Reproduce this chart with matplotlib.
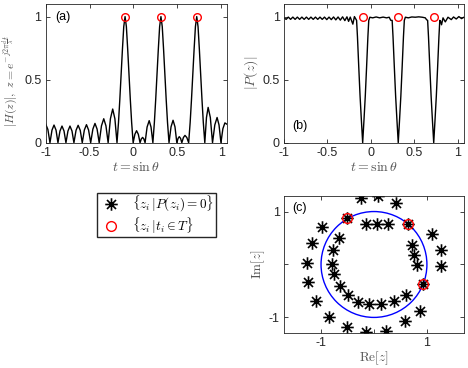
import matplotlib
matplotlib.use("Agg")
import matplotlib.pyplot as plt
from matplotlib.path import Path
from matplotlib.patches import Circle

# values
# (a) |H(z)| against t
ha_t = [-1.000, -0.975, -0.951,
        -0.928, -0.905, -0.882, -0.860,
        -0.837, -0.814, -0.791, -0.769,
        -0.746, -0.723, -0.700, -0.678,
        -0.654, -0.630, -0.606, -0.583,
        -0.559, -0.535, -0.511, -0.487,
        -0.462, -0.438, -0.414, -0.390,
        -0.364, -0.338, -0.313, -0.288,
        -0.262, -0.236, -0.211, -0.187,
        -0.170, -0.155, -0.140, -0.125, -0.110, -0.095, -0.080, -0.065, -0.050, -0.035, -0.020, -0.003,
        0.017, 0.036, 0.056, 0.076,
        0.090, 0.105, 0.119, 0.133,
        0.156, 0.180, 0.201, 0.222,
        0.239, 0.254, 0.269, 0.284, 0.299, 0.314, 0.329, 0.344, 0.359, 0.374, 0.389, 0.406,
        0.429, 0.452, 0.474, 0.495,
        0.509, 0.523, 0.538, 0.552,
        0.570, 0.588, 0.609, 0.630,
        0.647, 0.662, 0.677, 0.692, 0.707, 0.722, 0.737, 0.752, 0.767, 0.782, 0.797, 0.814,
        0.833, 0.852, 0.877, 0.902,
        0.928, 0.954, 0.976, 0.998,
        1.020, 1.043, 1.070]
ha_v = [0.148, 0.105, 0.0,
        0.100, 0.140, 0.100, 0.0,
        0.093, 0.132, 0.093, 0.0,
        0.093, 0.132, 0.093, 0.0,
        0.098, 0.138, 0.098, 0.0,
        0.101, 0.143, 0.101, 0.0,
        0.108, 0.153, 0.108, 0.0,
        0.134, 0.190, 0.134, 0.0,
        0.190, 0.267, 0.190, 0.0,
        0.16, 0.34, 0.54, 0.74, 0.92, 1.0, 0.92, 0.74, 0.54, 0.34, 0.16, 0.0,
        0.067, 0.095, 0.067, 0.0,
        0.030, 0.042, 0.030, 0.0,
        0.124, 0.175, 0.124, 0.0,
        0.16, 0.34, 0.54, 0.74, 0.92, 1.0, 0.92, 0.74, 0.54, 0.34, 0.16, 0.0,
        0.126, 0.178, 0.126, 0.0,
        0.034, 0.048, 0.034, 0.0,
        0.041, 0.058, 0.041, 0.0,
        0.16, 0.34, 0.54, 0.74, 0.92, 1.0, 0.92, 0.74, 0.54, 0.34, 0.16, 0.0,
        0.200, 0.280, 0.200, 0.0,
        0.141, 0.200, 0.141, 0.0,
        0.111, 0.157, 0.145]

# (b) |P(z)| against t
pb_t = [-1.000, -0.975, -0.950, -0.924, -0.898, -0.872, -0.846, -0.820, -0.794, -0.768,
        -0.742, -0.716, -0.690, -0.664, -0.638, -0.612, -0.586, -0.560, -0.534, -0.508,
        -0.482, -0.456, -0.430, -0.404, -0.378, -0.352, -0.326, -0.300, -0.276, -0.257,
        -0.238, -0.208, -0.190,
        -0.165, -0.155, -0.140, -0.125, -0.110, -0.095, -0.080, -0.065, -0.050, -0.035, -0.025,
        -0.012, 0.020, 0.060, 0.100, 0.140, 0.180, 0.210, 0.228,
        0.244, 0.254, 0.269, 0.284, 0.299, 0.314, 0.329, 0.344, 0.359, 0.374, 0.384,
        0.396, 0.430, 0.470, 0.510, 0.550, 0.590, 0.625, 0.640,
        0.652, 0.662, 0.677, 0.692, 0.707, 0.722, 0.737, 0.752, 0.767, 0.782, 0.792,
        0.802, 0.812, 0.829, 0.855, 0.886, 0.924, 0.950, 0.981, 1.011, 1.042, 1.070]
pb_v = [0.990, 0.978, 0.996, 0.978, 0.996, 0.978, 0.996, 0.978, 0.996, 0.978,
        0.996, 0.978, 0.996, 0.978, 0.996, 0.978, 0.996, 0.978, 0.996, 0.976,
        0.996, 0.976, 0.997, 0.974, 0.997, 0.972, 0.998, 0.968, 0.998, 0.962,
        0.996, 0.940, 1.000,
        0.97, 0.84, 0.60, 0.37, 0.18, 0.0, 0.18, 0.37, 0.60, 0.84, 0.97,
        0.995, 0.990, 0.997, 0.990, 0.996, 0.990, 0.995, 0.970,
        0.97, 0.84, 0.60, 0.37, 0.18, 0.0, 0.18, 0.37, 0.60, 0.84, 0.97,
        0.995, 0.990, 0.997, 0.995, 0.998, 0.995, 0.990, 0.975,
        0.97, 0.84, 0.60, 0.37, 0.18, 0.0, 0.18, 0.37, 0.60, 0.84, 0.97,
        0.960, 0.935, 0.990, 0.958, 0.995, 0.976, 0.997, 0.981, 1.000, 0.984, 0.995]

# target directions t_i
targets_t = [-0.095, 0.314, 0.722]

# (c) zeros of P(z)
zeros_re = [-0.236, 0.079, 0.412, -0.978, -0.506, -0.142, 0.060, 0.267, 0.645, 1.104,
            -1.179, -0.657, 0.726, 1.267, -0.783, 0.758, -1.274, -0.802, 0.808, 1.267,
            -0.758, -1.248, 0.928, -0.645, -0.487, -1.091, -0.311, -0.091, 0.142, 0.381,
            0.601, 0.871, -0.846, -0.519, 0.582, -0.142, 0.223]
zeros_im = [1.264, 1.296, 1.170, 0.717, 0.887, 0.774, 0.761, 0.761, 0.774, 0.572,
            0.409, 0.509, 0.371, 0.283, 0.277, 0.176, 0.031, 0.006, -0.019, -0.031,
            -0.189, -0.333, -0.371, -0.415, -0.572, -0.698, -0.704, -0.748, -0.748, -0.698,
            -0.572, -0.874, -0.987, -1.189, -1.075, -1.270, -1.252]
# zeros on the unit circle that belong to the targets
target_re = [-0.506, 0.645, 0.928]
target_im = [0.887, 0.774, -0.371]

plt.rcParams['font.family'] = ['Liberation Sans', 'DejaVu Sans']
plt.rcParams['mathtext.fontset'] = 'cm'
plt.rcParams['axes.unicode_minus'] = False
plt.rcParams['font.size'] = 9
plt.rcParams['axes.edgecolor'] = '#262626'
plt.rcParams['xtick.color'] = '#262626'
plt.rcParams['ytick.color'] = '#262626'
plt.rcParams['axes.linewidth'] = 0.6

# matlab style asterisk
star = Path([(-1, 0), (1, 0), (0, -1), (0, 1),
             (-0.72, -0.72), (0.72, 0.72), (-0.72, 0.72), (0.72, -0.72)],
            [Path.MOVETO, Path.LINETO] * 4)

fig = plt.figure(figsize=(4.68, 3.68), dpi=100)
ax_a = fig.add_axes([0.0976, 0.6122, 0.388, 0.377])
ax_b = fig.add_axes([0.6068, 0.6122, 0.3846, 0.377])
ax_c = fig.add_axes([0.6068, 0.0943, 0.3846, 0.374])

lab_col = '#555555'


def style(ax):
    ax.tick_params(direction='in', top=True, right=True, length=3, width=0.6, labelsize=9, pad=3)


# panel (a)
ax_a.plot(ha_t, ha_v, color='k', lw=1.0)
ax_a.plot(targets_t, [1] * len(targets_t), 'o', mfc='none', mec='r', ms=5.5, mew=1.0)
ax_a.set_xlim(-1, 1.07)
ax_a.set_ylim(0, 1.1)
ax_a.set_xticks([-1, -0.5, 0, 0.5, 1])
ax_a.set_xticklabels(['-1', '-0.5', '0', '0.5', '1'])
ax_a.set_yticks([0, 0.5, 1])
ax_a.set_yticklabels(['0', '0.5', '1'])
ax_a.set_xlabel(r'$t=\sin\theta$', fontsize=10, color=lab_col, labelpad=1)
ax_a.set_ylabel(r'$|H(z)|,\ z=e^{-j2\pi\frac{d}{\lambda}t}$', fontsize=8.5, color=lab_col)
ax_a.yaxis.set_label_coords(-0.14, 0.45)
ax_a.text(-0.8, 1.0, '(a)', fontsize=9, va='center', ha='center')
style(ax_a)

# panel (b)
ax_b.plot(pb_t, pb_v, color='k', lw=1.0)
ax_b.plot(targets_t, [1] * len(targets_t), 'o', mfc='none', mec='r', ms=5.5, mew=1.0)
ax_b.set_xlim(-1, 1.07)
ax_b.set_ylim(0, 1.1)
ax_b.set_xticks([-1, -0.5, 0, 0.5, 1])
ax_b.set_xticklabels(['-1', '-0.5', '0', '0.5', '1'])
ax_b.set_yticks([0, 0.5, 1])
ax_b.set_yticklabels(['0', '0.5', '1'])
ax_b.set_xlabel(r'$t=\sin\theta$', fontsize=10, color=lab_col, labelpad=1)
ax_b.set_ylabel(r'$|P(z)|$', fontsize=10, color=lab_col, labelpad=2)
ax_b.text(-0.82, 0.13, '(b)', fontsize=9, va='center', ha='center')
style(ax_b)

# panel (c)
h_star, = ax_c.plot(zeros_re, zeros_im, ls='none', marker=star, ms=9, mec='k', mew=1.2, color='k')
ax_c.add_patch(Circle((0, 0), 1, fill=False, ec='b', lw=1.0))
h_circ, = ax_c.plot(target_re, target_im, ls='none', marker='o', mfc='none', mec='r', ms=7, mew=1.0)
ax_c.set_xlim(-1.7, 1.7)
ax_c.set_ylim(-1.3, 1.3)
ax_c.set_xticks([-1, 0, 1])
ax_c.set_xticklabels(['-1', '', '1'])
ax_c.set_yticks([-1, 0, 1])
ax_c.set_yticklabels(['-1', '', '1'])
ax_c.set_xlabel(r'$\mathrm{Re}[z]$', fontsize=9.5, color=lab_col, labelpad=0)
ax_c.set_ylabel(r'$\mathrm{Im}[z]$', fontsize=9.5, color=lab_col, labelpad=1)
ax_c.text(-1.4, 1.075, '(c)', fontsize=9, va='center', ha='center')
style(ax_c)

fig.legend([h_star, h_circ],
           [r'$\{z_i\,|P(z_i)=0\}$', r'$\{z_i\,|t_i\in T\}$'],
           loc='upper left', bbox_to_anchor=(0.208, 0.4764), borderaxespad=0, fontsize=9.5,
           frameon=True, fancybox=False, edgecolor='#262626', framealpha=1,
           handlelength=1.9, borderpad=0.12, labelspacing=0.05, handletextpad=0.6)

fig.savefig('out.png', dpi=100)
